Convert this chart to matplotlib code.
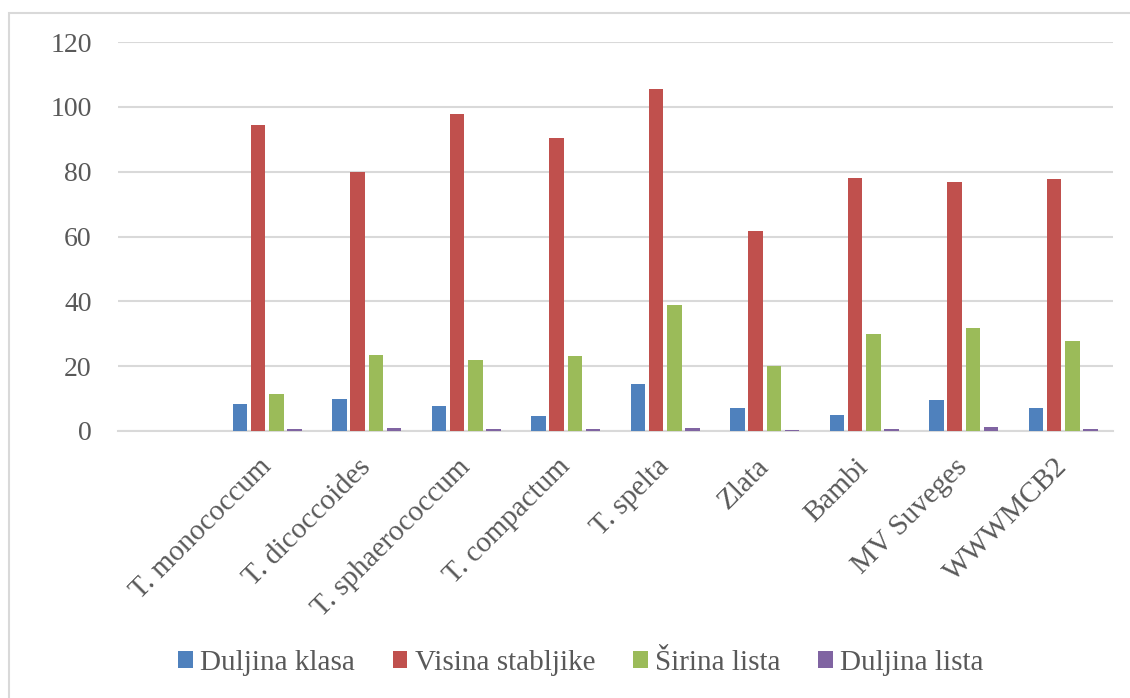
import matplotlib
matplotlib.use("Agg")
import matplotlib.pyplot as plt
from matplotlib.patches import Rectangle
import numpy as np

# Vrijednosti ocitane s grafikona (prva kategorija je prazna)
kategorije = ["", "T. monococcum", "T. dicoccoides", "T. sphaerococcum", "T. compactum",
              "T. spelta", "Zlata", "Bambi", "MV Suveges", "WWWMCB2"]
duljina_klasa = [np.nan, 8.4, 9.9, 7.8, 4.7, 14.6, 7.2, 4.9, 9.6, 7.2]
visina_stabljike = [np.nan, 94.4, 80.0, 97.9, 90.3, 105.5, 61.8, 78.1, 76.9, 77.8]
sirina_lista = [np.nan, 11.5, 23.5, 22.0, 23.0, 39.0, 19.9, 30.0, 31.9, 27.9]
duljina_lista = [np.nan, 0.7, 1.0, 0.7, 0.6, 1.0, 0.4, 0.7, 1.3, 0.7]

serije = [("Duljina klasa", duljina_klasa, "#4f81bd"),
          ("Visina stabljike", visina_stabljike, "#c0504d"),
          ("Širina lista", sirina_lista, "#9bbb59"),
          ("Duljina lista", duljina_lista, "#8064a2")]

plt.rcParams["font.family"] = ["Liberation Serif", "DejaVu Serif"]
siva = "#595959"

fig = plt.figure(figsize=(11.3, 6.98), dpi=100)
ax = fig.add_axes([118 / 1130, 1 - 431 / 698, (1113 - 118) / 1130, (431 - 42) / 698])

x = np.arange(len(kategorije))
korak = 0.182
for i, (ime, vals, boja) in enumerate(serije):
    ax.bar(x + (i - 1.5) * korak, vals, width=0.146, color=boja, label=ime, zorder=3)

ax.set_xlim(-0.5, len(kategorije) - 0.5)
ax.set_ylim(0, 120)
ax.set_yticks(range(0, 121, 20))
ax.yaxis.grid(True, color="#d9d9d9", linewidth=1.5, zorder=0)
for s in ["top", "right", "left"]:
    ax.spines[s].set_visible(False)
ax.spines["bottom"].set_color("#d9d9d9")
ax.spines["bottom"].set_linewidth(1.5)
ax.tick_params(axis="y", length=0, pad=19, labelsize=20, labelcolor=siva)
ax.tick_params(axis="x", length=0, pad=23, labelsize=21, labelcolor=siva)
ax.set_xticks(x)
ax.set_xticklabels(kategorije, rotation=45, ha="right", va="center", rotation_mode="anchor")

leg = fig.legend(loc="center", bbox_to_anchor=(581 / 1130, 1 - 663 / 698), ncol=4, frameon=False,
                 fontsize=21, handlelength=0.5, handleheight=0.5, handletextpad=0.25,
                 columnspacing=1.3, borderaxespad=0)
for t in leg.get_texts():
    t.set_color(siva)

# okvir grafikona
fig.patches.append(Rectangle((9 / 1130, -0.1), 1.2, 1.1 - 13 / 698, transform=fig.transFigure,
                             fill=False, edgecolor="#d9d9d9", linewidth=1.5))

fig.savefig("out.png", dpi=100)
